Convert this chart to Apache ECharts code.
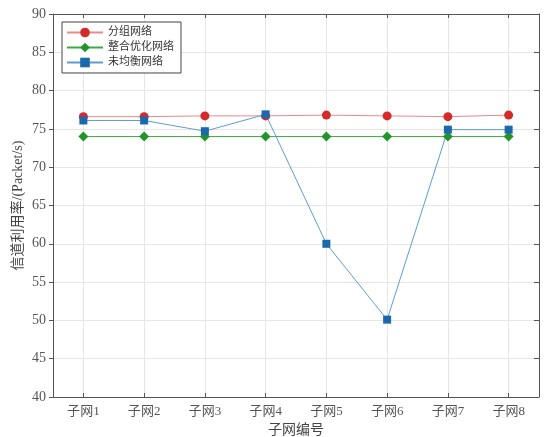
<!DOCTYPE html>
<html>
<head>
<meta charset="utf-8">
<script src="https://cdn.jsdelivr.net/npm/echarts@6/dist/echarts.min.js"></script>
<style>
  html, body { margin: 0; padding: 0; background: #fff; }
  #chart { width: 545px; height: 437px; }
</style>
</head>
<body>
<div id="chart"></div>
<script>
// Subnet labels along the x axis
const categories = ['子网1', '子网2', '子网3', '子网4', '子网5', '子网6', '子网7', '子网8'];

// Channel utilisation per subnet for each scheme
const groupedNet = [76.6, 76.6, 76.7, 76.7, 76.8, 76.7, 76.6, 76.8];
const optimizedNet = [74.0, 74.0, 74.0, 74.0, 74.0, 74.0, 74.0, 74.0];
const unbalancedNet = [76.1, 76.1, 74.7, 76.9, 60.0, 50.1, 74.9, 74.9];

const seriesNames = ['分组网络', '整合优化网络', '未均衡网络'];

const FONT = '"Liberation Serif", "Noto Sans CJK SC", serif';
const GRID_COLOR = '#e6e6e6';
const AXIS_COLOR = '#555';
const LABEL_COLOR = '#555';

const chart = echarts.init(document.getElementById('chart'), null, { renderer: 'canvas' });

function lineSeries(name, data, lineColor, markerColor, symbol, size) {
  return {
    name: name,
    type: 'line',
    data: data,
    symbol: symbol,
    symbolSize: size,
    showSymbol: true,
    lineStyle: { color: lineColor, width: 1 },
    itemStyle: { color: markerColor },
    emphasis: { disabled: true },
    animation: false,
    xAxisIndex: 0,
    yAxisIndex: 0
  };
}

chart.setOption({
  animation: false,
  grid: { left: 53, right: 6, top: 14, bottom: 40, containLabel: false, outerBoundsMode: 'none' },
  legend: {
    left: 62,
    top: 22,
    orient: 'vertical',
    itemWidth: 36,
    itemHeight: 12,
    itemGap: 4,
    padding: [5, 7, 5, 4],
    borderColor: '#444',
    borderWidth: 1,
    backgroundColor: '#fff',
    textStyle: { fontFamily: FONT, fontSize: 11, color: '#333' },
    data: seriesNames
  },
  xAxis: [
    {
      type: 'category',
      data: categories,
      boundaryGap: true,
      position: 'bottom',
      name: '子网编号',
      nameLocation: 'middle',
      nameGap: 26,
      nameTextStyle: { fontFamily: FONT, fontSize: 14, color: '#444' },
      axisLine: { show: true, lineStyle: { color: AXIS_COLOR, width: 1 } },
      axisTick: { show: true, alignWithLabel: true, inside: true, length: 4, lineStyle: { color: AXIS_COLOR } },
      axisLabel: { fontFamily: FONT, fontSize: 13, color: LABEL_COLOR, margin: 8 },
      splitLine: { show: true, alignWithLabel: true, lineStyle: { color: GRID_COLOR, width: 1 } }
    },
    {
      type: 'category',
      data: categories,
      boundaryGap: true,
      position: 'top',
      axisLine: { show: true, lineStyle: { color: AXIS_COLOR, width: 1 } },
      axisTick: { show: true, alignWithLabel: true, inside: true, length: 4, lineStyle: { color: AXIS_COLOR } },
      axisLabel: { show: false },
      splitLine: { show: false }
    }
  ],
  yAxis: [
    {
      type: 'value',
      min: 40,
      max: 90,
      interval: 5,
      position: 'left',
      name: '信道利用率/(Packet/s)',
      nameLocation: 'middle',
      nameGap: 28,
      nameMoveOverlap: false,
      nameTextStyle: { fontFamily: FONT, fontSize: 14, color: '#444' },
      axisLine: { show: true, lineStyle: { color: AXIS_COLOR, width: 1 } },
      axisTick: { show: true, inside: false, length: 4, lineStyle: { color: AXIS_COLOR } },
      axisLabel: { fontFamily: FONT, fontSize: 14, color: LABEL_COLOR, margin: 7 },
      splitLine: { show: true, lineStyle: { color: GRID_COLOR, width: 1 } }
    },
    {
      type: 'value',
      min: 40,
      max: 90,
      interval: 5,
      position: 'right',
      axisLine: { show: true, lineStyle: { color: AXIS_COLOR, width: 1 } },
      axisTick: { show: true, inside: true, length: 5, lineStyle: { color: AXIS_COLOR } },
      axisLabel: { show: false },
      splitLine: { show: false }
    }
  ],
  series: [
    lineSeries(seriesNames[0], groupedNet, '#ec8a8a', '#d42a2a', 'circle', 9),
    lineSeries(seriesNames[1], optimizedNet, '#3faa3f', '#22952a', 'diamond', 10),
    lineSeries(seriesNames[2], unbalancedNet, '#5d9cd3', '#1c68ad', 'rect', 8)
  ]
});
</script>
</body>
</html>
